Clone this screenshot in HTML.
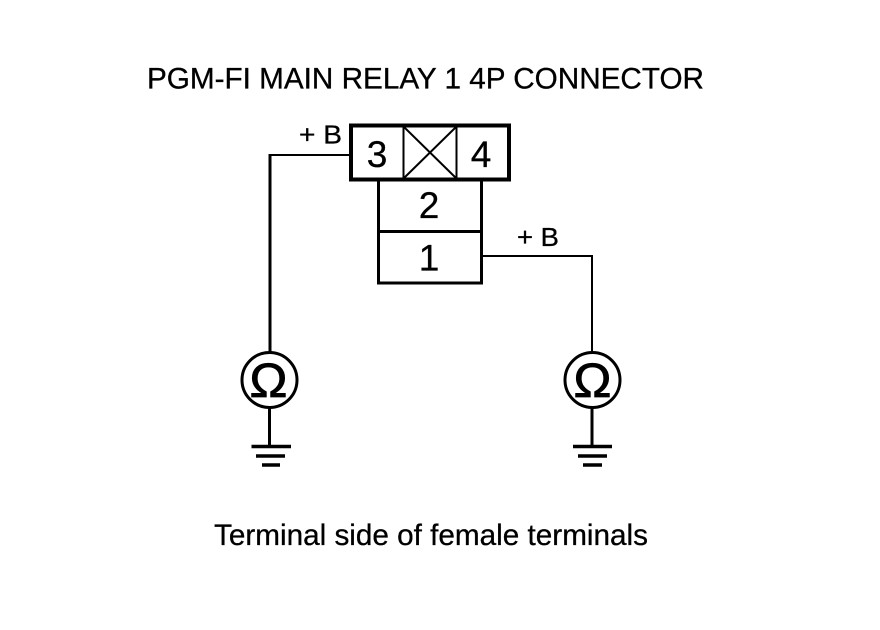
<!DOCTYPE html>
<html>
<head>
<meta charset="utf-8">
<style>
html,body{margin:0;padding:0;background:#fff;width:880px;height:630px;overflow:hidden}
svg{display:block}
text{font-family:"Liberation Sans",sans-serif;fill:#000;stroke:#000;stroke-width:.3px}
</style>
</head>
<body>
<svg width="880" height="630" viewBox="0 0 880 630" xmlns="http://www.w3.org/2000/svg">
<rect width="880" height="630" fill="#fff"/>
<text x="147" y="88.500" font-size="30" textLength="557" lengthAdjust="spacingAndGlyphs">PGM-FI MAIN RELAY 1 4P CONNECTOR</text>
<text x="214" y="545" font-size="30" textLength="434" lengthAdjust="spacingAndGlyphs">Terminal side of female terminals</text>

<g fill="none" stroke="#000">
<path d="M378.500 180V283H481.500V180" stroke-width="3"/>
<path d="M378 231.500H482" stroke-width="3"/>
<rect x="351" y="125.500" width="158" height="54" stroke-width="4"/>
<path d="M403.500 126V179M456.500 126V179" stroke-width="2"/>
<path d="M404 127L456 178M456 127L404 178" stroke-width="2"/>
<path d="M350 155H270" stroke-width="2"/>
<path d="M270 154V353" stroke-width="3"/>
<path d="M483 256H592V353" stroke-width="2"/>
<circle cx="269.500" cy="380" r="27.500" stroke-width="3"/>
<circle cx="592.500" cy="380" r="27.500" stroke-width="3"/>
<path d="M269.500 408V446" stroke-width="3"/>
<path d="M592 408V446" stroke-width="3"/>
<path d="M251.500 446.500H291M256 456H285M262 465H280" stroke-width="3.500"/>
<path d="M573 446.500H612M578 456H607M583 465H602" stroke-width="3.500"/>
</g>

<text x="377" y="167" font-size="37" text-anchor="middle">3</text>
<text x="481" y="167" font-size="37" text-anchor="middle">4</text>
<text x="429" y="218" font-size="37" text-anchor="middle">2</text>
<text x="429" y="270.500" font-size="37" text-anchor="middle">1</text>
<text x="299" y="143.500" font-size="26" textLength="43" lengthAdjust="spacingAndGlyphs">+ B</text>
<text x="517" y="246" font-size="26" textLength="42" lengthAdjust="spacingAndGlyphs">+ B</text>
<text x="249.500" y="397" font-size="48" textLength="38" lengthAdjust="spacingAndGlyphs" style="stroke-width:.8px">Ω</text>
<text x="573.500" y="397" font-size="48" textLength="38" lengthAdjust="spacingAndGlyphs" style="stroke-width:.8px">Ω</text>
</svg>
</body>
</html>
